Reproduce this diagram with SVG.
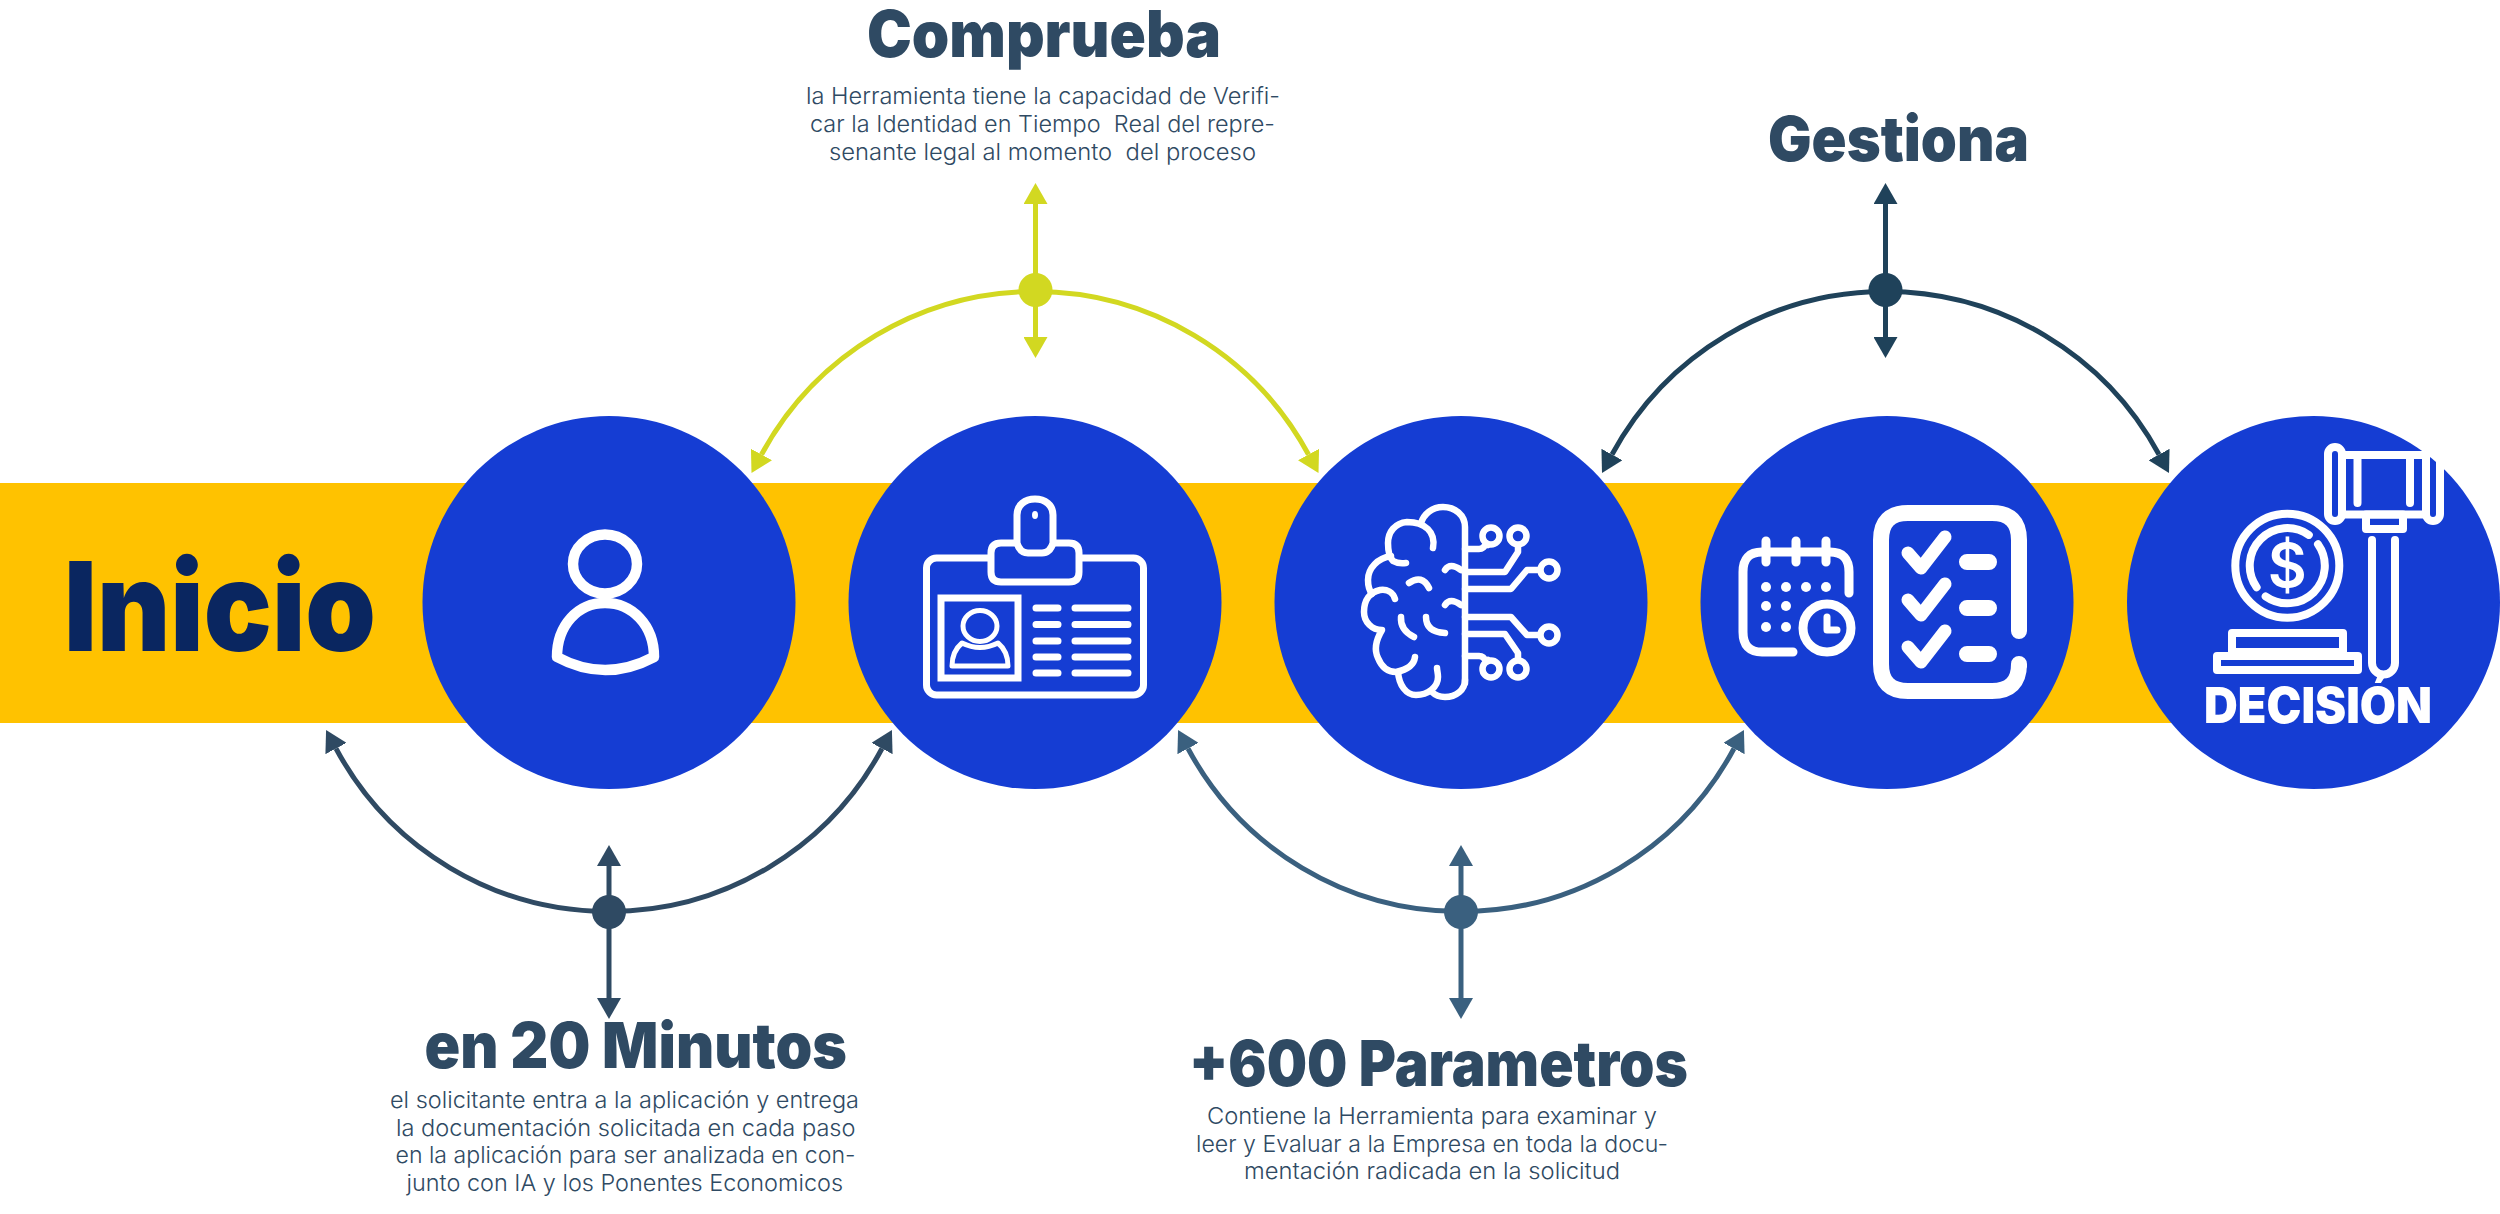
<svg xmlns="http://www.w3.org/2000/svg" width="2500" height="1214" viewBox="0 0 2500 1214">
<style>
.node{fill:#153dd3}
.ic{fill:none;stroke:#fff;stroke-linecap:round;stroke-linejoin:round}
.w{fill:#fff;stroke:none}
.h{font-family:Inter,"Liberation Sans",sans-serif;font-weight:900;fill:#2f4a63}
.b{font-family:Inter,"Liberation Sans",sans-serif;font-weight:300;font-size:23px;fill:#2f4a63;white-space:pre}
.arc{fill:none;stroke-width:5}
.y{stroke:#d2d821}.yf{fill:#d2d821}
.d{stroke:#1f425a}.df{fill:#1f425a}
.s{stroke:#2f4a63}.sf{fill:#2f4a63}
.m{stroke:#3a607f}.mf{fill:#3a607f}
</style>
<defs>
<marker id="ay" markerUnits="userSpaceOnUse" markerWidth="21" markerHeight="24" viewBox="0 0 21 24" refX="0" refY="12" orient="auto"><path d="M0,0L21,12L0,24Z" class="yf"/></marker>
<marker id="ad" markerUnits="userSpaceOnUse" markerWidth="21" markerHeight="24" viewBox="0 0 21 24" refX="0" refY="12" orient="auto"><path d="M0,0L21,12L0,24Z" class="df"/></marker>
<marker id="as" markerUnits="userSpaceOnUse" markerWidth="21" markerHeight="24" viewBox="0 0 21 24" refX="0" refY="12" orient="auto"><path d="M0,0L21,12L0,24Z" class="sf"/></marker>
<marker id="am" markerUnits="userSpaceOnUse" markerWidth="21" markerHeight="24" viewBox="0 0 21 24" refX="0" refY="12" orient="auto"><path d="M0,0L21,12L0,24Z" class="mf"/></marker>
</defs>
<rect id="band" x="0" y="483" width="2300" height="240" fill="#ffc200"/>
<text id="inicio" x="64" y="651" font-family="Inter,'Liberation Sans',sans-serif" font-weight="900" font-size="124" fill="#0a2660" textLength="312" lengthAdjust="spacingAndGlyphs">Inicio</text>
<g id="connectors">
<g class="arc y">
<path d="M1035,291.5A311,311 0 0 0 761.5,454.5" marker-end="url(#ay)"/>
<path d="M1035,291.5A311,311 0 0 1 1308.5,454.5" marker-end="url(#ay)"/>
<path d="M1035.5,290V204" marker-end="url(#ay)"/>
<path d="M1035.5,290V337" marker-end="url(#ay)"/>
<circle cx="1035.5" cy="290" r="17" class="yf" stroke="none"/>
</g>
<g class="arc d">
<path d="M1885.5,291.5A311,311 0 0 0 1612,454.5" marker-end="url(#ad)"/>
<path d="M1885.5,291.5A311,311 0 0 1 2159,454.5" marker-end="url(#ad)"/>
<path d="M1885.5,290V204" marker-end="url(#ad)"/>
<path d="M1885.5,290V337" marker-end="url(#ad)"/>
<circle cx="1885.5" cy="290" r="17" class="df" stroke="none"/>
</g>
<g class="arc s">
<path d="M609,911.5A309,309 0 0 1 336,748.5" marker-end="url(#as)"/>
<path d="M609,911.5A309,309 0 0 0 882,748.5" marker-end="url(#as)"/>
<path d="M609,912V866" marker-end="url(#as)"/>
<path d="M609,912V998" marker-end="url(#as)"/>
<circle cx="609" cy="912" r="17" class="sf" stroke="none"/>
</g>
<g class="arc m">
<path d="M1461,911.5A309,309 0 0 1 1188,748.5" marker-end="url(#am)"/>
<path d="M1461,911.5A309,309 0 0 0 1734,748.5" marker-end="url(#am)"/>
<path d="M1461,912V866" marker-end="url(#am)"/>
<path d="M1461,912V998" marker-end="url(#am)"/>
<circle cx="1461" cy="912" r="17" class="mf" stroke="none"/>
</g>
</g>
<g id="node-person">
<circle class="node" cx="609" cy="602.5" r="186.5"/>
<g class="ic" stroke-width="10.5">
<ellipse cx="605" cy="564" rx="32" ry="29.5"/>
<path d="M557,657C557,625 578,603 605,603C632,603 654,625 654,657Q605,683 557,657Z"/>
</g>
</g>
<g id="node-id">
<circle class="node" cx="1035" cy="602.5" r="186.5"/>
<g class="ic" stroke-width="7">
<rect x="926.5" y="558" width="217" height="137" rx="10"/>
<path d="M1017,543H1001Q991,543 991,553V572Q991,582 1001,582H1069Q1079,582 1079,572V553Q1079,543 1069,543H1053" fill="#153dd3"/>
<path d="M1017,543Q1020,553 1028,553H1042Q1050,553 1053,543V515C1053,505 1045,499 1035,499C1025,499 1017,505 1017,515Z" fill="#153dd3"/>
<rect x="941" y="598" width="77" height="80" stroke-linejoin="miter"/>
<path d="M1036,608H1058M1075,608H1128M1036,624.5H1058M1075,624.5H1128M1036,641H1058M1075,641H1128M1036,657H1058M1075,657H1128M1036,673H1058M1075,673H1128"/>
</g>
<ellipse class="w" cx="1035" cy="515" rx="3" ry="4"/>
<g class="ic" stroke-width="5">
<ellipse cx="980" cy="626" rx="17" ry="15.5"/>
<path d="M952,666C952,655 956,648 962,643Q980,652 998,643C1004,648 1008,655 1008,666Z"/>
</g>
</g>
<g id="node-brain">
<circle class="node" cx="1461" cy="602.5" r="186.5"/>
<g class="ic" stroke-width="6.5">
<path d="M1465,683V527C1465,515 1455,507 1443,507C1432,507 1424,514 1421,523"/>
<path d="M1433,548C1436,532 1425,522 1407,522C1395,523 1388,532 1388,543C1388,552 1390,558 1393,561Q1398,564 1406,563"/>
<path d="M1391,556C1378,558 1368,568 1368,580C1368,586 1369,590 1372,594"/>
<path d="M1395,599C1393,592 1387,589 1380,590C1370,592 1364,600 1364,612C1364,622 1372,630 1382,630C1376,640 1374,650 1378,658C1382,668 1388,672 1396,672C1406,670 1414,665 1415,657"/>
<path d="M1398,672C1399,685 1406,695 1416,695C1428,695 1438,687 1438,677C1438,673 1437,670 1437,668"/>
<path d="M1432,692C1436,696 1440,697 1445,697C1456,697 1465,690 1465,680"/>
<path d="M1445,570Q1450,562 1461,570M1445,605Q1450,597 1461,605"/>
<path d="M1409,583Q1422,574 1429,588M1401,617Q1400,630 1414,637M1426,617Q1426,632 1445,633"/>
<path d="M1465,549H1479Q1484,549 1486,543L1488,545M1465,572H1505L1518,552V547M1465,589H1511L1527,570H1538M1465,617H1511L1527,635H1538M1465,634H1505L1518,653V658M1465,656H1479Q1484,656 1486,662L1488,660"/>
<circle cx="1491" cy="536" r="8.5"/><circle cx="1518" cy="536" r="8.5"/><circle cx="1549" cy="570" r="8.5"/>
<circle cx="1549" cy="635" r="8.5"/><circle cx="1518" cy="669" r="8.5"/><circle cx="1491" cy="669" r="8.5"/>
</g>
</g>
<g id="node-checklist">
<circle class="node" cx="1887" cy="602.5" r="186.5"/>
<g class="ic" stroke-width="9">
<path d="M1793,652H1762Q1743,652 1743,632V572Q1743,552 1762,552H1830Q1849,552 1849,572V593"/>
<path d="M1766,541V562M1796,541V562M1826,541V562"/>
<circle cx="1827" cy="628" r="24"/>
<path d="M1827,617V630H1837" stroke-width="7"/>
</g>
<g class="w">
<circle cx="1766" cy="587" r="5"/><circle cx="1786" cy="587" r="5"/><circle cx="1806" cy="587" r="5"/><circle cx="1826" cy="587" r="5"/>
<circle cx="1766" cy="606" r="5"/><circle cx="1786" cy="606" r="5"/><circle cx="1766" cy="627" r="5"/><circle cx="1786" cy="627" r="5"/>
</g>
<g class="ic" stroke-width="16">
<path d="M2019,631V540Q2019,513 1992,513H1908Q1881,513 1881,540V664Q1881,691 1908,691H1992Q2019,691 2019,664V667"/>
<path d="M1967,562H1989M1967,608H1989M1967,654H1989"/>
</g>
<g class="ic" stroke-width="13">
<path d="M1908,553L1921,568L1945,537M1908,600L1921,615L1945,584M1908,647L1921,662L1945,631"/>
</g>
</g>
<g id="node-decision">
<circle class="node" cx="2313.5" cy="602.5" r="186.5"/>
<g class="ic" stroke-width="8" stroke-linejoin="miter" stroke-linecap="butt">
<rect x="2328" y="447" width="14" height="74" rx="7"/>
<rect x="2426" y="447" width="14" height="74" rx="7"/>
<path d="M2342,455H2426M2342,514.5H2426M2357.5,455V503M2410,455V503"/>
<rect x="2366" y="514.5" width="37" height="14.5"/>
<path d="M2372,540V663A11.5,11.5 0 0 0 2395,663V540"/>
<circle cx="2287.3" cy="565.7" r="52"/>
<path d="M2318,544.2A37.5,37.5 0 0 1 2265.7,596.4M2256.6,587.2A37.5,37.5 0 0 1 2308.8,534.9"/>
<rect x="2232" y="633" width="111" height="19"/>
<rect x="2217" y="656" width="141" height="14"/>
</g>
<text x="2287.3" y="587" text-anchor="middle" font-family="Inter,'Liberation Sans',sans-serif" font-weight="600" font-size="60" fill="#fff">$</text>
<text x="2204" y="723" font-family="Inter,'Liberation Sans',sans-serif" font-weight="900" font-size="49.5" fill="#fff" textLength="228" lengthAdjust="spacingAndGlyphs">DECISIÓN</text>
</g>
<g id="label-comprueba">
<text class="h" x="867" y="57" font-size="64" textLength="354" lengthAdjust="spacingAndGlyphs">Comprueba</text>
<text class="b" x="806" y="104" textLength="474" lengthAdjust="spacingAndGlyphs">la Herramienta tiene la capacidad de Verifi-</text>
<text class="b" x="810" y="132" textLength="465" lengthAdjust="spacingAndGlyphs">car la Identidad en Tiempo  Real del repre-</text>
<text class="b" x="829" y="160" textLength="427" lengthAdjust="spacingAndGlyphs">senante legal al momento  del proceso</text>
</g>
<g id="label-gestiona">
<text class="h" x="1768" y="161" font-size="62" textLength="261" lengthAdjust="spacingAndGlyphs">Gestiona</text>
</g>
<g id="label-minutos">
<text class="h" x="424.5" y="1068" font-size="63" textLength="422.5" lengthAdjust="spacingAndGlyphs">en 20 Minutos</text>
<text class="b" x="390" y="1108" textLength="469" lengthAdjust="spacingAndGlyphs">el solicitante entra a la aplicación y entrega</text>
<text class="b" x="396" y="1136" textLength="459.5" lengthAdjust="spacingAndGlyphs">la documentación solicitada en cada paso</text>
<text class="b" x="395.5" y="1163" textLength="460" lengthAdjust="spacingAndGlyphs">en la aplicación para ser analizada en con-</text>
<text class="b" x="406.5" y="1191" textLength="436.5" lengthAdjust="spacingAndGlyphs">junto con IA y los Ponentes Economicos</text>
</g>
<g id="label-parametros">
<text class="h" x="1189" y="1086" font-size="63" textLength="499" lengthAdjust="spacingAndGlyphs">+600 Parametros</text>
<text class="b" x="1207" y="1124" textLength="450" lengthAdjust="spacingAndGlyphs">Contiene la Herramienta para examinar y</text>
<text class="b" x="1196" y="1152" textLength="472" lengthAdjust="spacingAndGlyphs">leer y Evaluar a la Empresa en toda la docu-</text>
<text class="b" x="1244" y="1179" textLength="376" lengthAdjust="spacingAndGlyphs">mentación radicada en la solicitud</text>
</g>
</svg>
